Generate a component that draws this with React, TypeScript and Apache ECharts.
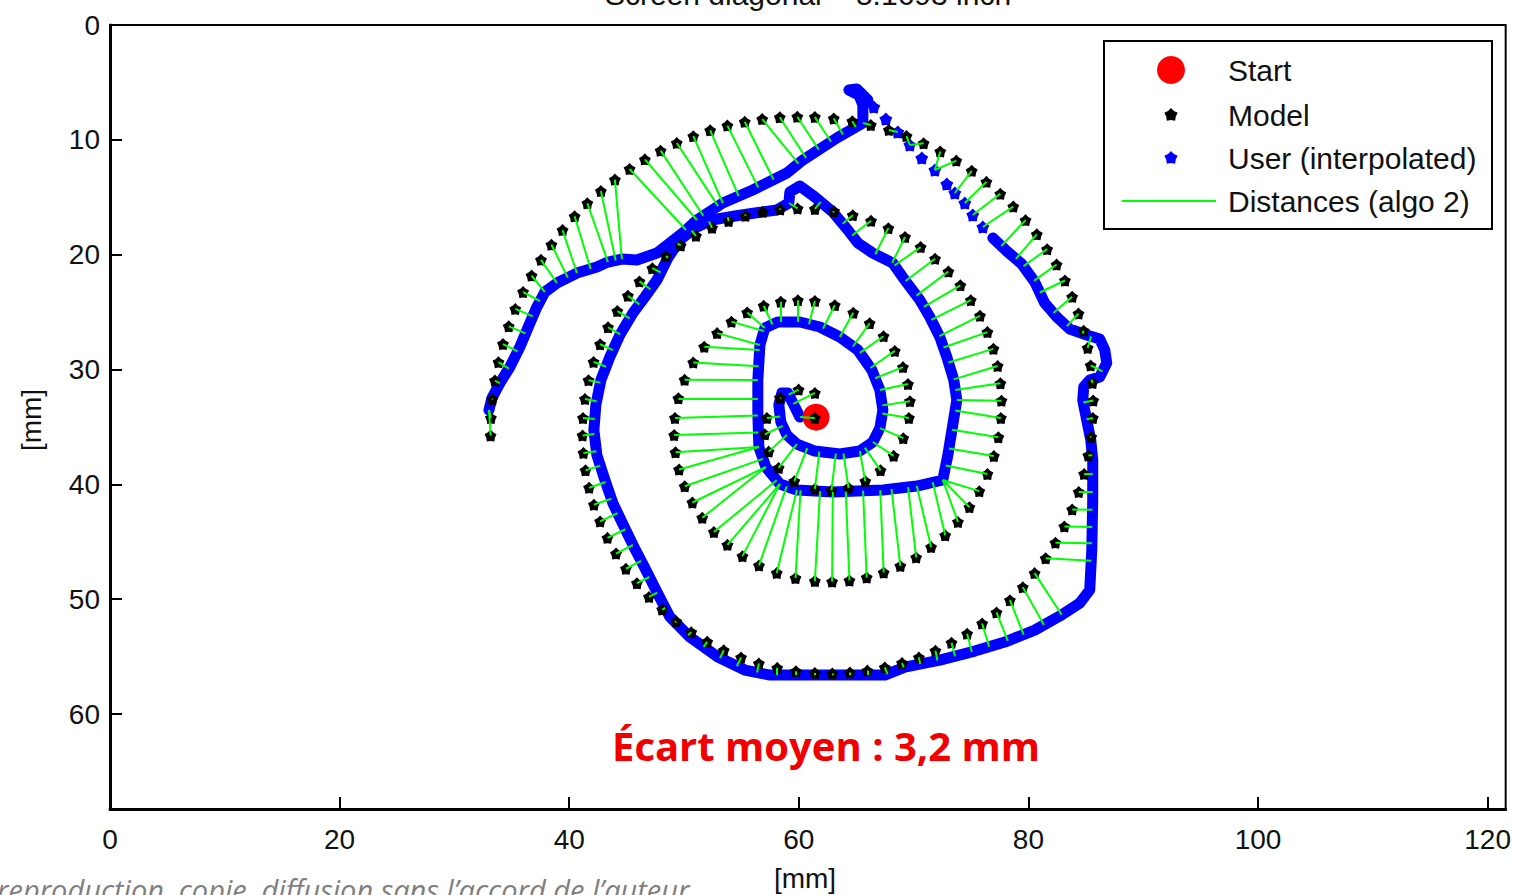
import React, { useEffect, useRef } from "react";
import * as echarts from "echarts";

// Axis extents in millimetres (screen area of the device)
const xRange: [number, number] = [0, 121.57];
const yRange: [number, number] = [0, 68.27];
const tickStep = 20;
const yTickStep = 10;

const titleText = "Screen diagonal = 5.1693 inch";
const axisUnit = "[mm]";
const meanGapText = "Écart moyen : 3,2 mm";
const footerText = "reproduction, copie, diffusion sans l’accord de l’auteur";
const legendLabels = ["Start", "Model", "User (interpolated)", "Distances (algo 2)"];

// Spiral centre, used by the matching step to follow the turns
const spiralCenter: [number, number] = [61.4, 34.22];

const startPoint: [number, number] = [61.5, 34.15];

// Model spiral, points in mm
const modelPath: [number, number][] = [
  [61.40, 34.22],
  [61.40, 32.04], [59.98, 31.75], [58.35, 32.46],
  [57.22, 34.22], [57.04, 35.64], [57.37, 37.15], [58.24, 38.57], [59.61, 39.72],
  [61.40, 40.40], [62.84, 40.53], [64.33, 40.30], [65.79, 39.72], [67.12, 38.78], [68.26, 37.52], [69.10, 35.98],
  [69.59, 34.22], [69.68, 32.76], [69.51, 31.27], [69.07, 29.79], [68.36, 28.38], [67.38, 27.10], [66.17, 25.97], [64.74, 25.06], [63.13, 24.40],
  [61.40, 24.03], [59.92, 23.96], [58.43, 24.10], [56.94, 24.45], [55.50, 25.03], [54.13, 25.83], [52.88, 26.83], [51.76, 28.02], [50.80, 29.38], [50.05, 30.89], [49.51, 32.51],
  [49.21, 34.22], [49.14, 35.71], [49.26, 37.21], [49.57, 38.71], [50.06, 40.17], [50.73, 41.58], [51.59, 42.91], [52.60, 44.15], [53.78, 45.27], [55.09, 46.25], [56.53, 47.06], [58.08, 47.71], [59.71, 48.16],
  [61.40, 48.42], [62.90, 48.47], [64.41, 48.37], [65.91, 48.11], [67.39, 47.68], [68.84, 47.10], [70.22, 46.36], [71.52, 45.46], [72.75, 44.44], [73.86, 43.27], [74.86, 41.99], [75.72, 40.59], [76.43, 39.10], [76.99, 37.53], [77.38, 35.90],
  [77.60, 34.22], [77.65, 32.71], [77.56, 31.20], [77.32, 29.69], [76.95, 28.20], [76.43, 26.74], [75.78, 25.32], [74.98, 23.96], [74.07, 22.67], [73.03, 21.47], [71.87, 20.35], [70.61, 19.34], [69.25, 18.46], [67.80, 17.69], [66.29, 17.05], [64.70, 16.56], [63.07, 16.22],
  [61.40, 16.02], [59.89, 15.97], [58.37, 16.06], [56.85, 16.27], [55.35, 16.61], [53.88, 17.07], [52.44, 17.66], [51.04, 18.36], [49.71, 19.20], [48.43, 20.13], [47.24, 21.18], [46.12, 22.33], [45.11, 23.58], [44.19, 24.91], [43.38, 26.32], [42.69, 27.80], [42.12, 29.34], [41.68, 30.93], [41.37, 32.56],
  [41.20, 34.22], [41.16, 35.74], [41.24, 37.26], [41.42, 38.78], [41.73, 40.29], [42.15, 41.77], [42.69, 43.23], [43.33, 44.66], [44.08, 46.03], [44.94, 47.35], [45.90, 48.61], [46.95, 49.80], [48.10, 50.90], [49.32, 51.93], [50.63, 52.87], [52.02, 53.71], [53.46, 54.45], [54.97, 55.07], [56.52, 55.59], [58.12, 55.98], [59.75, 56.27],
  [61.40, 56.43], [62.92, 56.47], [64.45, 56.39], [65.97, 56.22], [67.49, 55.94], [68.99, 55.56], [70.46, 55.07], [71.90, 54.48], [73.30, 53.79], [74.66, 53.00], [75.97, 52.12], [77.22, 51.15], [78.39, 50.09], [79.51, 48.95], [80.54, 47.73], [81.50, 46.44], [82.35, 45.08], [83.13, 43.66], [83.81, 42.18], [84.38, 40.66], [84.85, 39.09], [85.22, 37.49], [85.47, 35.87],
  [85.61, 34.22], [85.64, 32.70], [85.58, 31.17], [85.42, 29.64], [85.16, 28.12], [84.81, 26.62], [84.36, 25.13], [83.81, 23.67], [83.18, 22.25], [82.45, 20.86], [81.63, 19.52], [80.73, 18.23], [79.75, 16.99], [78.68, 15.81], [77.55, 14.70], [76.34, 13.66], [75.06, 12.70], [73.72, 11.81], [72.32, 11.01], [70.87, 10.30], [69.38, 9.67], [67.84, 9.14], [66.27, 8.71], [64.66, 8.38], [63.04, 8.14],
  [61.40, 8.01], [59.87, 7.99], [58.34, 8.04], [56.81, 8.19], [55.29, 8.43], [53.78, 8.76], [52.28, 9.17], [50.81, 9.68], [49.37, 10.27], [47.96, 10.94], [46.59, 11.70], [45.26, 12.54], [43.98, 13.46], [42.76, 14.46], [41.58, 15.52], [40.47, 16.66], [39.42, 17.86], [38.45, 19.13], [37.54, 20.45], [36.72, 21.82], [35.98, 23.25], [35.30, 24.72], [34.73, 26.24], [34.23, 27.78], [33.84, 29.36], [33.53, 30.96], [33.31, 32.59],
  [33.18, 34.22], [33.15, 35.75],
];

// User trace, first continuous stroke (mm)
const userPathA: [number, number][] = [
  [60.09, 34.14], [59.48, 32.92], [59.04, 32.05], [58.52, 32.05], [58.26, 33.09], [58.43, 34.57], [58.96, 35.70], [59.83, 36.49],
  [61.40, 37.10], [63.57, 37.36], [65.31, 37.10], [66.45, 36.31], [67.06, 35.10], [67.32, 33.53], [67.06, 31.79], [66.36, 30.04],
  [65.14, 28.30], [63.57, 27.17], [61.83, 26.30], [60.09, 25.86], [58.17, 25.86], [57.04, 26.39], [56.61, 27.87], [56.43, 30.92],
  [56.43, 33.79], [56.52, 36.75], [57.13, 38.49], [58.35, 39.97], [59.83, 40.49], [62.96, 40.67], [67.32, 40.49], [70.28, 40.15],
  [72.54, 39.62], [72.98, 37.45], [73.41, 34.83], [73.76, 32.66], [73.50, 30.92], [72.89, 28.91], [72.28, 27.17], [71.41, 25.43],
  [70.54, 23.95], [69.23, 22.21], [68.19, 20.73], [66.45, 19.86], [65.14, 18.98], [64.27, 17.85], [62.96, 16.28], [61.40, 14.98],
  [60.09, 14.02], [59.22, 14.54], [59.13, 15.50], [58.09, 16.11], [56.17, 16.37], [54.43, 16.63], [52.42, 16.98], [50.94, 17.68],
  [49.64, 18.72], [48.59, 20.29], [47.64, 22.21], [46.59, 23.69], [45.55, 25.08], [44.41, 27.00], [43.54, 28.91], [42.76, 30.92],
  [42.32, 33.09], [42.15, 35.27], [42.41, 37.45], [43.11, 39.62], [43.80, 41.63], [44.59, 43.28], [45.55, 45.28], [46.59, 47.29],
  [47.64, 49.38], [48.77, 51.55], [50.51, 53.30], [52.95, 55.04], [55.30, 56.17], [57.48, 56.61], [67.49, 56.61], [69.23, 55.91],
  [72.28, 55.30], [75.33, 54.52], [77.94, 53.73], [80.55, 52.69], [82.73, 51.47], [84.47, 50.34], [85.34, 49.20], [85.52, 45.72],
  [85.60, 41.37], [85.60, 37.88], [85.43, 36.14], [85.08, 34.40], [84.73, 32.66], [84.82, 31.52], [85.34, 30.92], [86.21, 30.65],
  [86.82, 29.43], [86.65, 28.30], [86.21, 27.34], [85.08, 27.00], [83.60, 26.47], [82.47, 25.43], [81.42, 24.21], [80.55, 22.38],
  [79.42, 20.81], [78.20, 19.77], [76.90, 18.55],
];

// Fast part of the stroke: isolated samples (mm)
const userSparse: [number, number][] = [
  [76.03, 17.59], [75.15, 16.55], [74.46, 15.50], [73.59, 14.63], [72.89, 13.85], [71.85, 12.63],
  [70.71, 11.58], [69.67, 10.45], [68.62, 9.32], [67.58, 8.19], [66.53, 7.14],
];

// User trace, last continuous stroke (mm)
const userPathB: [number, number][] = [
  [66.01, 6.53], [65.05, 5.57], [64.36, 5.66], [65.23, 6.10], [65.58, 6.97], [65.58, 8.53], [63.31, 9.84], [60.35, 11.76],
  [58.96, 12.89], [55.99, 14.37], [53.38, 15.50], [51.12, 16.98], [49.90, 18.11], [47.64, 19.86], [45.89, 20.46], [44.59, 20.38],
  [43.37, 20.64], [42.41, 21.07], [40.67, 21.60], [38.93, 22.47], [37.88, 23.25], [37.18, 24.56], [36.58, 25.95],
  [35.70, 28.04], [34.83, 29.78], [33.96, 31.18], [33.27, 32.48], [33.01, 33.53],
];

const STAR =
  "path://M0,-10L4.23,-5.82L9.51,-3.09L6.85,2.22L5.88,8.09L0,7.2L-5.88,8.09L-6.85,2.22L-9.51,-3.09L-4.23,-5.82Z";

const FONT = '"Liberation Sans", Arial, sans-serif';

// Unwrapped polar angle around the spiral centre (0 at top, growing counter-clockwise on screen)
function unwrapAngles(pts: [number, number][]): number[] {
  const raw: (number | null)[] = pts.map(([x, y]) => {
    const dx = x - spiralCenter[0];
    const dy = y - spiralCenter[1];
    return Math.hypot(dx, dy) < 0.3 ? null : Math.atan2(-dx, -dy);
  });
  for (let i = raw.length - 2; i >= 0; i--) if (raw[i] === null) raw[i] = raw[i + 1];
  const out: number[] = [];
  let acc = raw[0] as number;
  out.push(acc);
  for (let i = 1; i < raw.length; i++) {
    let d = (raw[i] as number) - (raw[i - 1] as number);
    while (d > Math.PI) d -= 2 * Math.PI;
    while (d < -Math.PI) d += 2 * Math.PI;
    acc += d;
    out.push(acc);
  }
  return out;
}

function projectOnSegment(p: number[], a: number[], b: number[]): [number, number] {
  const vx = b[0] - a[0];
  const vy = b[1] - a[1];
  const l2 = vx * vx + vy * vy;
  let t = l2 > 0 ? ((p[0] - a[0]) * vx + (p[1] - a[1]) * vy) / l2 : 0;
  t = Math.max(0, Math.min(1, t));
  return [a[0] + t * vx, a[1] + t * vy];
}

// Pair each model point with the closest user sample lying on the same turn
function matchDistances(): [number, number][][] {
  const user = [...userPathA, ...userSparse, ...userPathB];
  const ua = unwrapAngles(user);
  const ma = unwrapAngles(modelPath);
  const nA = userPathA.length;
  const nS = userSparse.length;
  const window = 1.2;
  const result: [number, number][][] = [];
  modelPath.forEach((m, k) => {
    const th = ma[k];
    let best: [number, number] | null = null;
    let bestD = Infinity;
    const consider = (q: [number, number]) => {
      const d = Math.hypot(q[0] - m[0], q[1] - m[1]);
      if (d < bestD) {
        bestD = d;
        best = q;
      }
    };
    const segs = (from: number, to: number) => {
      for (let i = from; i < to - 1; i++) {
        if (Math.min(Math.abs(ua[i] - th), Math.abs(ua[i + 1] - th)) <= window) {
          consider(projectOnSegment(m, user[i], user[i + 1]));
        }
      }
    };
    segs(0, nA);
    for (let i = nA; i < nA + nS; i++) {
      if (Math.abs(ua[i] - th) <= window) consider(user[i]);
    }
    segs(nA + nS, user.length);
    if (best) result.push([m, best]);
  });
  return result;
}

function starPoints(cx: number, cy: number, R: number): number[][] {
  const pts: number[][] = [];
  for (let i = 0; i < 10; i++) {
    const r = i % 2 === 0 ? R : R * 0.72;
    const a = -Math.PI / 2 + (i * Math.PI) / 5;
    pts.push([cx + r * Math.cos(a), cy + r * Math.sin(a)]);
  }
  return pts;
}

export default function App() {
  const ref = useRef<HTMLDivElement>(null);

  useEffect(() => {
    if (!ref.current) return;
    const chart = echarts.init(ref.current, null, { renderer: "svg" });
    const distances = matchDistances();

    const legendX = 1104;
    const legendY = 41;
    const rowY = [70, 115, 158, 201];

    chart.setOption({
      animation: false,
      backgroundColor: "#ffffff",
      grid: {
        left: 110,
        top: 25,
        width: 1396,
        height: 784,
        show: true,
        borderColor: "#000",
        borderWidth: 2,
        backgroundColor: "#fff",
      },
      xAxis: {
        type: "value",
        min: xRange[0],
        max: xRange[1],
        interval: tickStep,
        position: "bottom",
        axisLine: { show: true, onZero: false, lineStyle: { color: "#000", width: 3 } },
        axisTick: { show: true, inside: true, length: 12, lineStyle: { color: "#000", width: 2 } },
        axisLabel: { color: "#111", fontSize: 28, fontFamily: FONT, margin: 16, showMaxLabel: false },
        splitLine: { show: false },
      },
      yAxis: {
        type: "value",
        inverse: true,
        min: yRange[0],
        max: yRange[1],
        interval: yTickStep,
        axisLine: { show: true, onZero: false, lineStyle: { color: "#000", width: 3 } },
        axisTick: { show: true, inside: true, length: 12, lineStyle: { color: "#000", width: 2 } },
        axisLabel: { color: "#111", fontSize: 28, fontFamily: FONT, margin: 10, showMaxLabel: false },
        splitLine: { show: false },
      },
      series: [
        {
          name: legendLabels[2],
          type: "line",
          data: userPathA,
          showSymbol: false,
          symbol: "none",
          z: 2,
          lineStyle: { color: "#0000ff", width: 11, cap: "round", join: "round" },
        },
        {
          name: legendLabels[2],
          type: "line",
          data: userPathB,
          showSymbol: false,
          symbol: "none",
          z: 2,
          lineStyle: { color: "#0000ff", width: 11, cap: "round", join: "round" },
        },
        {
          name: legendLabels[2],
          type: "scatter",
          data: userSparse,
          symbol: STAR,
          symbolSize: 13,
          z: 2,
          itemStyle: { color: "#0000ff", opacity: 1 },
        },
        {
          name: legendLabels[0],
          type: "scatter",
          data: [startPoint],
          symbol: "circle",
          symbolSize: 27,
          z: 3,
          itemStyle: { color: "#ff0000", opacity: 1 },
        },
        {
          name: legendLabels[1],
          type: "scatter",
          data: modelPath,
          symbol: STAR,
          symbolSize: 12,
          z: 4,
          itemStyle: { color: "#000000", opacity: 1 },
        },
        {
          name: legendLabels[3],
          type: "lines",
          coordinateSystem: "cartesian2d",
          z: 5,
          silent: true,
          lineStyle: { color: "#00ff00", width: 2, opacity: 1 },
          data: distances.map(([a, b]) => ({ coords: [a, b] })),
        },
      ],
      graphic: [
        {
          type: "text",
          x: 808,
          y: -6,
          style: {
            text: titleText,
            fontSize: 30,
            fontFamily: FONT,
            fill: "#111",
            align: "center",
            verticalAlign: "middle",
          },
        },
        {
          type: "text",
          x: 805,
          y: 878,
          style: { text: axisUnit, fontSize: 28, fontFamily: FONT, fill: "#111", align: "center", verticalAlign: "middle" },
        },
        {
          type: "text",
          x: 31,
          y: 420,
          rotation: Math.PI / 2,
          style: { text: axisUnit, fontSize: 28, fontFamily: FONT, fill: "#111", align: "center", verticalAlign: "middle" },
        },
        {
          type: "text",
          x: -3,
          y: 889,
          style: {
            text: footerText,
            fontSize: 29,
            fontStyle: "italic",
            fontFamily: '"Open Sans", sans-serif',
            fill: "#7f7f7f",
            align: "left",
            verticalAlign: "middle",
          },
        },
        {
          type: "text",
          x: 826,
          y: 745,
          z: 20,
          style: {
            text: meanGapText,
            fontSize: 40,
            fontWeight: "bold",
            fontFamily: '"Open Sans", sans-serif',
            fill: "#f00000",
            align: "center",
            verticalAlign: "middle",
          },
        },
        {
          type: "group",
          z: 30,
          children: [
            {
              type: "rect",
              shape: { x: legendX, y: legendY, width: 388, height: 188 },
              style: { fill: "#fff", stroke: "#000", lineWidth: 2 },
            },
            { type: "circle", shape: { cx: 1171, cy: rowY[0], r: 14 }, style: { fill: "#ff0000" } },
            { type: "polygon", shape: { points: starPoints(1171, rowY[1], 7) }, style: { fill: "#000" } },
            { type: "polygon", shape: { points: starPoints(1171, rowY[2], 7) }, style: { fill: "#0000ff" } },
            {
              type: "line",
              shape: { x1: 1122, y1: rowY[3], x2: 1216, y2: rowY[3] },
              style: { stroke: "#00ff00", lineWidth: 2 },
            },
            ...legendLabels.map((label, i) => ({
              type: "text",
              x: 1228,
              y: rowY[i],
              style: { text: label, fontSize: 30, fontFamily: FONT, fill: "#111", align: "left", verticalAlign: "middle" },
            })),
          ],
        },
      ],
    });

    return () => chart.dispose();
  }, []);

  return (
    <div
      ref={ref}
      style={{ position: "fixed", left: 0, top: 0, width: 1514, height: 895, background: "#fff" }}
    />
  );
}
